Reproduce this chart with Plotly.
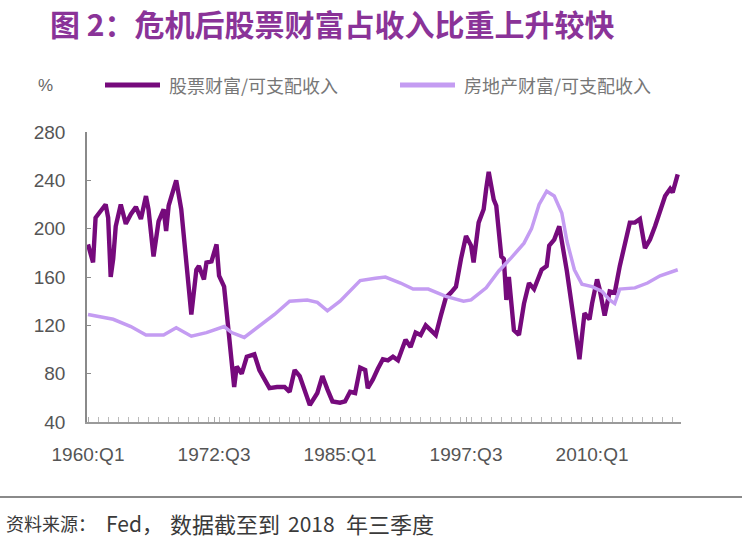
import plotly.graph_objects as go

# Quarter index: 0 = 1960:Q1, 234 = 2018:Q3
stock_q = [0, 2, 3, 4, 7, 8, 9, 10, 11, 13, 15, 17, 19, 21, 23, 24, 26, 28, 30, 31, 32, 35, 37,
           41, 43, 44, 46, 47, 49, 51, 52, 54, 56, 58, 59, 61, 63, 66, 68, 72, 75, 78, 80, 82,
           84, 86, 88, 91, 93, 95, 97, 100, 102, 104, 106, 108, 110, 111, 113, 115, 117, 119,
           121, 123, 126, 128, 130, 132, 134, 136, 138, 140, 142, 144, 146, 148, 150, 152, 153,
           155, 157, 158, 159, 161, 162, 164, 165, 166, 167, 169, 171, 173, 175, 177, 180, 182,
           183, 185, 187, 190, 192, 195, 197, 199, 200, 202, 203, 205, 207, 209, 211, 213, 215,
           217, 219, 221, 223, 225, 227, 229, 231, 232, 234]
stock_val = [187, 172, 209, 212, 220, 209, 160, 175, 202, 220, 204, 212, 218, 208, 227, 216, 177,
             206, 216, 198, 219, 240, 216, 129, 166, 169, 158, 172, 173, 187, 161, 152, 111, 69,
             86, 80, 94, 96, 83, 68, 69, 69, 65, 83, 78, 67, 54, 64, 78, 67, 57, 56, 57, 65, 64,
             85, 83, 68, 75, 84, 92, 91, 94, 91, 108, 102, 114, 112, 120, 116, 112, 128, 143,
             147, 152, 175, 194, 186, 172, 205, 216, 233, 247, 224, 219, 177, 175, 141, 160, 116,
             112, 138, 155, 150, 166, 169, 186, 191, 202, 165, 135, 92, 130, 125, 138, 158, 150,
             128, 148, 147, 169, 188, 205, 205, 208, 184, 191, 202, 216, 227, 233, 230, 245]

house_q = [0, 10, 17, 23, 30, 35, 41, 47, 54, 57, 62, 67, 74, 80, 87, 91, 95, 100, 108, 114,
           118, 124, 129, 135, 142, 149, 152, 158, 163, 168, 173, 176, 179, 182, 185, 188, 190,
           193, 196, 200, 204, 207, 209, 211, 217, 222, 227, 234]
house_val = [129, 125, 119, 112, 112, 118, 111, 114, 119, 114, 110, 118, 129, 140, 141, 139,
             132, 140, 157, 159, 160, 155, 150, 150, 144, 140, 141, 151, 165, 176, 188, 200,
             220, 231, 227, 213, 190, 166, 154, 152, 148, 141, 138, 150, 151, 155, 161, 166]

tick_q = [0, 50, 100, 150, 200]
tick_labels = ["1960:Q1", "1972:Q3", "1985:Q1", "1997:Q3", "2010:Q1"]
y_ticks = [40, 80, 120, 160, 200, 240, 280]

series_names = ["股票财富/可支配收入", "房地产财富/可支配收入"]
title_text = "图 2：危机后股票财富占收入比重上升较快"
source_parts = ["资料来源：", "Fed，", "数据截至到", "2018", "年三季度"]

dark = "#760A7C"
light = "#C49CF2"

W, H = 750, 548
L, R, T, B = 87, 69, 132, 126
PW, PH = W - L - R, H - T - B


def px(x):
    return (x - L) / PW


def py(y):
    return (H - B - y) / PH


fig = go.Figure()
fig.add_trace(go.Scatter(x=stock_q, y=stock_val, mode="lines", name=series_names[0],
                         line=dict(color=dark, width=4.4), showlegend=False))
fig.add_trace(go.Scatter(x=house_q, y=house_val, mode="lines", name=series_names[1],
                         line=dict(color=light, width=3.5), showlegend=False))

cjk = "Noto Sans CJK SC, Liberation Sans, Arial, sans-serif"
lat = "Liberation Sans, Arial, sans-serif"

shapes = [
    dict(type="line", xref="paper", yref="paper", x0=px(105), x1=px(160), y0=py(85), y1=py(85),
         line=dict(color=dark, width=5)),
    dict(type="line", xref="paper", yref="paper", x0=px(400), x1=px(455), y0=py(85), y1=py(85),
         line=dict(color=light, width=5)),
    dict(type="line", xref="paper", yref="paper", x0=px(0), x1=px(742), y0=py(497), y1=py(497),
         line=dict(color="#8a8a8a", width=2)),
]

annotations = [
    dict(text="%", xref="paper", yref="paper", x=px(45), y=py(85), showarrow=False,
         xanchor="center", yanchor="middle", font=dict(family=lat, size=17, color="#666666")),
    dict(text=series_names[0], xref="paper", yref="paper", x=px(167), y=py(85), showarrow=False,
         xanchor="left", yanchor="middle", font=dict(family=cjk, size=18, color="#777777")),
    dict(text=series_names[1], xref="paper", yref="paper", x=px(462), y=py(85), showarrow=False,
         xanchor="left", yanchor="middle", font=dict(family=cjk, size=18, color="#777777")),
    dict(text="<b>" + title_text + "</b>", xref="paper", yref="paper", x=px(48), y=py(23),
         showarrow=False, xanchor="left", yanchor="middle",
         font=dict(family=cjk, size=30, color="#8A3398")),
]

source_x = [4, 104, 168, 286, 344]
source_sizes = [18, 21, 22, 21, 22]
for part, sx, ss in zip(source_parts, source_x, source_sizes):
    annotations.append(dict(text=part, xref="paper", yref="paper", x=px(sx), y=py(523),
                            showarrow=False, xanchor="left", yanchor="middle",
                            font=dict(family=cjk, size=ss, color="#3a3a3a")))

fig.update_layout(
    width=W, height=H,
    margin=dict(l=L, r=R, t=T, b=B),
    paper_bgcolor="white", plot_bgcolor="white",
    shapes=shapes, annotations=annotations,
    showlegend=False,
)
fig.update_xaxes(range=[-0.4, 235.3], tickvals=tick_q, ticktext=tick_labels,
                 showline=True, linecolor="#9a9a9a", linewidth=1.5, showgrid=False, zeroline=False,
                 ticks="inside", ticklen=5, tickcolor="#aaaaaa", ticklabelstandoff=14,
                 minor=dict(ticks="inside", dtick=4, tick0=0, ticklen=5, tickcolor="#bbbbbb"),
                 tickfont=dict(family=lat, size=19, color="#555555"))
fig.update_yaxes(range=[40, 280], tickvals=y_ticks, showline=True, linecolor="#8a8a8a",
                 linewidth=1.5, showgrid=False, zeroline=False, ticks="inside", ticklen=4,
                 tickcolor="#8a8a8a", ticklabelstandoff=16,
                 tickfont=dict(family=lat, size=19, color="#555555"))

fig.write_html("out.html")
